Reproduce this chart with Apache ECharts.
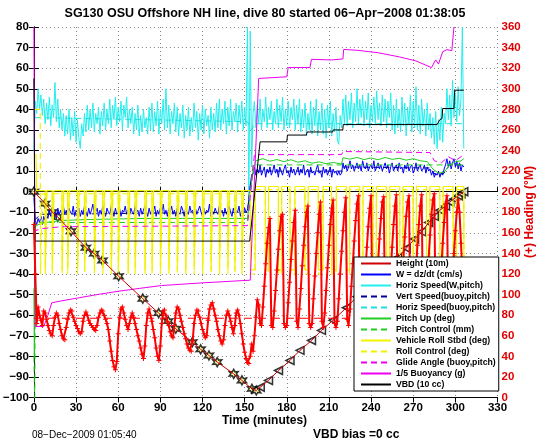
<!DOCTYPE html>
<html><head><meta charset="utf-8">
<script src="https://cdn.jsdelivr.net/npm/echarts@6/dist/echarts.min.js"></script>
<style>html,body{margin:0;padding:0;background:#fff}#c{width:546px;height:442px}</style>
</head><body><div id="c"></div><script>
// ---------- texts ----------
const titleText = 'SG130 OSU Offshore NH line, dive 80 started 06\u2212Apr\u22122008 01:38:05';
const xAxisTitle = 'Time (minutes)';
const rightAxisTitle = '(+) Heading (\u00B0M)';
const dateStamp = '08\u2212Dec\u22122009 01:05:40';
const vbdBiasText = 'VBD bias =0 cc';
const seriesNames = ['Height (10m)','W = dz/dt (cm/s)','Horiz Speed(W,pitch)','Vert Speed(buoy,pitch)',
  'Horiz Speed(buoy,pitch)','Pitch Up (deg)','Pitch Control (mm)','Vehicle Roll Stbd (deg)',
  'Roll Control (deg)','Glide Angle (buoy,pitch)','1/5 Buoyancy (g)','VBD (10 cc)'];

// ---------- axes ----------
const timeMin = 0, timeMax = 330, timeStep = 30;
const leftMin = -100, leftMax = 80, leftStep = 10;
const headMin = 0, headMax = 360, headStep = 20;

// ---------- depth (Height, 10 m) ----------
const depthDescent = [[0,0],[8,-5.8],[13,-9.9],[17,-12.3],[26.4,-19.2],[37,-27.2],[42.9,-30.1],[48.8,-33.4],[60.3,-41.1],[77.5,-52],[88.8,-59],[95.6,-62.9],[101,-66.6],[112.8,-73.1],[118.7,-76.6],[124.6,-79.6],[130.5,-82.8],[142.2,-88.5],[148.1,-91.7],[155.2,-95.8],[158.3,-96.6]];
const depthAscent = [[158.3,-96.6],[161.1,-95],[167,-91.7],[174.1,-86.9],[182.3,-82],[189.4,-77.1],[197.6,-72.3],[204.7,-67.4],[212.9,-62.5],[222.4,-56.4],[230,-51],[238,-46],[245,-41],[252,-36.5],[259,-32],[265,-27.5],[271,-23],[276,-19.5],[281,-15],[285,-12],[289,-9],[293,-7],[296,-5],[299,-3.5],[302,-2],[304,-1],[306,0]];

// ---------- one-minute samples ----------
const horizSpeedW = [20,
44,38,50,40,47,37,45,33,43,35,
46,32,42,36,53,34,45,31,40,30,
38,27,37,28,40,25,36,27,39,24,
35,26,21,33,27,38,29,42,30,40,
31,43,29,38,33,41,28,39,32,43,
30,40,33,45,31,42,35,46,32,41,
34,44,30,42,36,46,31,40,33,41,
28,38,30,42,27,37,29,40,31,36,
28,41,30,43,29,39,32,44,28,40,
33,45,30,50,31,42,28,39,33,43,
29,41,27,38,31,42,26,37,30,41,
27,36,29,43,31,39,25,38,30,42,
28,40,32,37,26,41,30,38,29,43,
31,45,30,40,33,44,28,41,32,45,
30,39,34,43,29,42,33,44,30,41,
32,80,-5,78,12,
38,44,31,42,33,45,30,40,34,46,
31,41,35,44,30,39,33,45,31,42,
34,46,30,40,32,44,31,41,35,45,
30,42,33,45,29,40,31,43,27,38,
30,44,28,41,32,45,27,39,30,43,
28,40,26,42,31,44,27,38,29,41,
25,23,37,31,45,33,47,32,44,35,
48,31,43,34,50,33,45,36,47,32,
44,35,48,31,42,34,46,33,49,35,
43,32,47,34,45,31,44,36,48,30,
42,28,45,31,40,29,46,32,43,27,
41,33,47,29,44,31,51,30,42,28,
45,32,40,27,43,30,38,26,36,23,
39,21,35,25,41,24,38,33,50,35,
47,32,54,36,48,34,51,37,45,80,
21];
const wSpeed = [-3,-14,-16,-13,-15,-12,-16,-12,-14,-11,-13,
-9,-12,-8,-11,-10,-13,-8,-11,-9,-12,
-7,-11,-9,-12,-8,-10,-11,-7,-12,-9,
-10,-8,-12,-9,-11,-7,-10,-12,-8,-11,
-9,-6,-11,-10,-8,-12,-9,-11,-7,-10,
-12,-8,-10,-11,-7,-9,-12,-8,-11,-10,
-8,-12,-9,-10,-7,-11,-9,-12,-8,-10,
-11,-7,-10,-9,-12,-8,-11,-9,-7,-10,
-12,-8,-11,-9,-10,-7,-12,-9,-11,-8,
-10,-6,-11,-9,-12,-8,-10,-7,-11,-9,
-12,-8,-10,-11,-7,-9,-12,-8,-10,-11,
-7,-10,-9,-12,-8,-11,-9,-7,-10,-12,
-8,-11,-9,-10,-6,-12,-9,-11,-8,-10,
-11,-7,-10,-9,-12,-8,-11,-9,-7,-10,
-12,-8,-11,-9,-10,-7,-12,-9,-11,-8,
-10,-9,
-4,3,8,9,
12,8,11,9,13,8,10,12,7,11,
9,12,8,10,13,9,11,7,12,10,
8,11,13,9,10,7,12,9,11,8,
10,12,8,11,9,13,8,10,11,7,
12,9,10,8,11,13,9,10,7,12,
9,11,8,10,12,7,11,9,10,8,
10,8,9,14,11,13,10,12,15,11,
13,10,12,14,11,13,10,15,12,11,
14,10,12,13,11,15,10,12,14,11,
13,10,12,14,11,13,9,12,14,10,
12,13,10,14,11,12,9,13,11,14,
10,12,13,9,11,14,10,12,13,10,
11,13,9,12,10,11,8,10,7,9,
8,10,7,9,8,11,13,16,12,15,
11,14,16,12,15,11,14,10,13,12];
const headingDeg = [168,120,72,88,80,75,70,84,82,76,70,
65,62,60,70,78,82,80,72,66,60,
57,56,68,76,82,85,84,78,74,70,
67,64,62,64,74,80,83,80,75,72,
70,68,66,65,70,78,82,85,84,80,
76,72,66,55,45,36,30,27,35,62,
78,86,88,82,76,70,66,72,78,82,
78,72,66,60,55,48,42,38,50,70,
82,86,80,74,66,58,48,40,36,50,
72,84,85,80,74,70,64,60,58,70,
82,88,86,80,74,68,62,57,52,48,
46,45,55,72,80,85,84,78,72,66,
62,58,60,75,86,90,92,86,80,74,
66,60,55,52,56,70,80,84,80,74,
68,62,70,82,85,80,72,62,52,44,
38,34,33,40,52,45,60,78,95,90,
72,70,88,108,130,150,165,174,70,68,
84,104,124,144,162,176,178,72,68,70,
92,112,134,152,170,182,74,68,86,106,
128,148,166,180,186,72,68,72,96,118,
140,160,178,190,74,68,82,104,126,148,
168,184,192,72,68,74,96,120,142,162,
180,194,76,70,86,108,130,152,172,188,
196,72,68,76,100,122,146,166,184,196,
74,68,88,110,132,154,174,190,195,72,
68,74,98,122,146,168,186,197,76,70,
86,110,134,156,176,190,196,72,68,76,
100,124,148,168,186,197,74,68,88,112,
136,158,178,192,198,72,68,78,102,126,
150,170,188,196,74,70,90,116,140,162,
180,192,180,150,120,100];
const headingTarget = [[0,77],[306,77]];

// ---------- slowly varying series ----------
const vertSpeedBuoy = [[0,-14],[5,-11],[152,-10],[155,8],[157,10],[219,10],[220,12],[282,11.5],[286,8],[292,9],[296,13],[306,13]];
const horizSpeedBuoy = [[1,36],[152,34],[155,30],[157,33],[306,33]];
const pitchUp = [[0,-47],[0.3,-80],[1,-17],[3,-16],[8,-15],[20,-14],[40,-13.5],[80,-13],[120,-13],[152,-13],[153,-8],[155,5],[157,13],[158,15],[163,16],[168,14.8],[173,15.6],[178,14.6],[183,15.5],[188,14.3],[193,15],[198,13.8],[203,14.5],[208,13.6],[213,14.2],[219,13.4],[220,16.5],[225,15.8],[230,16.6],[235,15.6],[240,16.4],[245,15.5],[250,16.6],[255,15.7],[260,16.2],[265,15.3],[270,16],[275,15],[280,14.6],[284,11],[288,9],[292,9.5],[296,13],[300,14.5],[304,15],[306,16]];
const pitchControl = [[0,-80],[0.6,-105],[1.2,-15],[152,-15],[156,13],[306,13]];
const glideAngle = [[0,-20],[1,-19],[5,-18],[20,-17],[80,-16.8],[152,-16.5],[155,5],[157,18],[219,18],[220,19.5],[282,19],[285,15],[290,14],[295,17],[300,15],[306,18]];
const buoyancyFifth = [[0,80],[0.6,80],[1,-65.5],[7,-65.5],[10,-60],[12.7,-54],[20,-53],[31.6,-51.6],[45,-50],[60,-48.4],[75,-47],[91,-45.6],[120,-44.3],[154,-43],[160,55],[180,55.8],[181,60.3],[196.5,60.3],[197.6,64.3],[212,64],[212.5,64.5],[220,64.5],[220.5,69.1],[230,68.7],[245,67.5],[260,65.5],[272,63.5],[283,60.3],[286,64],[288,62],[291,68],[294,69],[297.5,68.5],[299,80]];
const vbd10cc = [[0,55],[0.7,-24],[153.6,-24],[161,24.2],[180,24.2],[180.5,27.5],[194,27.5],[194.5,29],[212.7,29],[213,30],[219.9,30],[220.2,32.6],[287,32.6],[289,35],[290.5,35.5],[291,40.4],[299,40.4],[299.5,49.3],[306,49.3]];

// ---------- roll (square wave pieces) ----------
const rollStart = [[0,18],[1.5,18],[2,0.5]];
const rollControlStart = [[0,40],[4.5,40],[4.7,-40],[5.8,-40],[6,-1]];
const rollDipsDescent = [[8,9.2],[13,14.2],[20,21.2],[24,25.2],[31,32.2],[36,37.2],[43,44.2],[49,50.2],[55,56.2],[60,61.2],[67,68.2],[72,73.2],[79,80.2],[84,85.2],[90,91.2],[96,97.2],[102,103.2],[108,109.2],[114,115.2],[120,121.2],[126,127.2],[132,133.2],[138,139.2],[143,144.2],[148,149.2]];
const rollTopsAscent = [[157.6,164.7],[167,174],[176.4,182.3],[185.8,192.9],[195.3,202.4],[205.9,211.8],[215.3,222.4],[224.8,231.9],[234.3,241.4],[243.8,250.9],[253.3,260.4],[262.8,269.9],[272.3,279.4],[281.8,288.9],[291.3,298.4],[300.8,306]];
const rollLevels = {descent: 0.5, ascent: 2.5, dip: -38};
const rollControlLevels = {descent: -1, ascent: 1, dip: -40};

function buildRoll(start, lv) {
  const pts = start.slice();
  rollDipsDescent.forEach(([a, b]) => { pts.push([a, lv.descent], [a + 0.1, lv.dip], [b - 0.1, lv.dip], [b, lv.descent]); });
  pts.push([154, lv.descent], [154.2, lv.dip]);
  rollTopsAscent.forEach(([a, b]) => { pts.push([a - 0.1, lv.dip], [a, lv.ascent], [b, lv.ascent], [b + 0.1, lv.dip]); });
  return pts;
}
const perMinute = arr => arr.map((v, i) => [i, v]);

const FONT = 'Liberation Sans, Arial, Helvetica, sans-serif';
const minus = v => String(v).replace('-', '\u2212');
const dotted = {show: true, lineStyle: {color: '#808080', type: [1, 3], width: 1}};

const chart = echarts.init(document.getElementById('c'), null, {renderer: 'canvas'});
const lineS = (name, data, color, opts = {}) => ({
  name, type: 'line', data, showSymbol: false, symbol: 'none', animation: false,
  xAxisIndex: 0, yAxisIndex: 0,
  lineStyle: {color, width: opts.width || 1, type: opts.dash || 'solid'}, itemStyle: {color}
});

const hexagram = 'path://M5,0L6.3,2.8L9.3,2.5L7.6,5L9.3,7.5L6.3,7.2L5,10L3.7,7.2L0.7,7.5L2.4,5L0.7,2.5L3.7,2.8Z';
const plus = 'path://M4,0H6V4H10V6H6V10H4V6H0V4H4Z';

chart.setOption({
  animation: false,
  grid: {left: 31, top: 27, width: 466.5, height: 370.5, show: false},
  xAxis: [
    {type: 'value', min: timeMin, max: timeMax, interval: timeStep, position: 'bottom',
     axisLine: {show: true, lineStyle: {color: '#000', width: 1}},
     axisTick: {show: true, inside: true, length: 5, lineStyle: {color: '#000'}},
     axisLabel: {color: '#000', fontSize: 11.5, fontWeight: 'bold', fontFamily: FONT, margin: 4},
     splitLine: dotted},
    {type: 'value', min: timeMin, max: timeMax, interval: timeStep, position: 'top',
     axisLine: {show: true, lineStyle: {color: '#000', width: 1}},
     axisTick: {show: true, inside: true, length: 5, lineStyle: {color: '#000'}},
     axisLabel: {show: false}, splitLine: {show: false}}
  ],
  yAxis: [
    {type: 'value', min: leftMin, max: leftMax, interval: leftStep, position: 'left',
     axisLine: {show: true, lineStyle: {color: '#000', width: 1}},
     axisTick: {show: true, inside: true, length: 5, lineStyle: {color: '#000'}},
     axisLabel: {color: '#000', fontSize: 11.5, fontWeight: 'bold', fontFamily: FONT, margin: 5, formatter: minus},
     splitLine: dotted},
    {type: 'value', min: headMin, max: headMax, interval: headStep, position: 'right',
     axisLine: {show: true, lineStyle: {color: '#000', width: 1}},
     axisTick: {show: true, inside: true, length: 5, lineStyle: {color: '#000'}},
     axisLabel: {color: '#e00000', fontSize: 11.5, fontWeight: 'bold', fontFamily: FONT, margin: 4},
     splitLine: {show: false}}
  ],
  legend: {
    data: seriesNames, orient: 'vertical', left: 354, top: 257,
    itemWidth: 30, itemHeight: 8, itemGap: 0, padding: [1, 3, 1, 6],
    backgroundColor: '#fff', borderColor: '#000', borderWidth: 1, borderRadius: 0,
    selectedMode: false,
    itemStyle: {color: 'rgba(0,0,0,0)', borderColor: 'rgba(0,0,0,0)', borderWidth: 0, opacity: 0},
    textStyle: {color: '#000', fontSize: 8.7, fontWeight: 'bold', fontFamily: FONT, lineHeight: 11, padding: [0, 0, 0, 0]}
  },
  graphic: [
    {type: 'text', x: 265, y: 14, style: {text: titleText, fill: '#000', font: 'bold 12.5px ' + FONT, align: 'center', verticalAlign: 'middle'}},
    {type: 'text', x: 264.5, y: 421, style: {text: xAxisTitle, fill: '#000', font: 'bold 12px ' + FONT, align: 'center', verticalAlign: 'middle'}},
    {type: 'text', x: 32, y: 435.5, style: {text: dateStamp, fill: '#000', font: '10px ' + FONT, align: 'left', verticalAlign: 'middle'}},
    {type: 'text', x: 313, y: 435, style: {text: vbdBiasText, fill: '#000', font: 'bold 12px ' + FONT, align: 'left', verticalAlign: 'middle'}},
    {type: 'text', x: 530, y: 212, rotation: Math.PI / 2, style: {text: rightAxisTitle, fill: '#e00000', font: 'bold 12px ' + FONT, align: 'center', verticalAlign: 'middle'}}
  ],
  series: [
    lineS(seriesNames[2], perMinute(horizSpeedW), '#22eeee'),
    lineS(seriesNames[4], horizSpeedBuoy, '#22dddd', {dash: [6, 4]}),
    lineS(seriesNames[1], perMinute(wSpeed), '#0000ff'),
    lineS(seriesNames[3], vertSpeedBuoy, '#000099', {dash: [6, 4]}),
    lineS(seriesNames[5], pitchUp, '#22cc22'),
    lineS(seriesNames[6], pitchControl, '#22cc22', {dash: [6, 4]}),
    lineS(seriesNames[7], buildRoll(rollStart, rollLevels), '#f2f200', {width: 1.2}),
    lineS(seriesNames[8], buildRoll(rollControlStart, rollControlLevels), '#f2f200', {dash: [6, 4], width: 1.2}),
    lineS(seriesNames[9], glideAngle, '#ee00ee', {dash: [6, 4]}),
    lineS(seriesNames[10], buoyancyFifth, '#ee00ee'),
    lineS(seriesNames[11], vbd10cc, '#000000'),
    {name: 'heading', type: 'line', xAxisIndex: 0, yAxisIndex: 1, data: perMinute(headingDeg),
     symbol: plus, symbolSize: 5, showSymbol: true, lineStyle: {color: '#ff0000', width: 2},
     itemStyle: {color: '#ff0000'}, animation: false},
    {name: 'heading target', type: 'line', xAxisIndex: 0, yAxisIndex: 1, data: headingTarget,
     symbol: 'none', lineStyle: {color: '#ff0000', width: 1, type: [8, 6]}, animation: false},
    lineS(seriesNames[0], depthDescent.concat(depthAscent.slice(1)), '#cc0000'),
    {name: 'depth descent markers', type: 'scatter', xAxisIndex: 0, yAxisIndex: 0, data: depthDescent,
     symbol: hexagram, symbolSize: 9, itemStyle: {color: '#ffff99', borderColor: '#000', borderWidth: 1.5}, animation: false},
    {name: 'depth ascent markers', type: 'scatter', xAxisIndex: 0, yAxisIndex: 0, data: depthAscent.slice(1),
     symbol: 'triangle', symbolSize: 8, symbolRotate: 90, itemStyle: {color: '#eeeeee', borderColor: '#000', borderWidth: 1.5}, animation: false}
  ]
});
</script></body></html>
